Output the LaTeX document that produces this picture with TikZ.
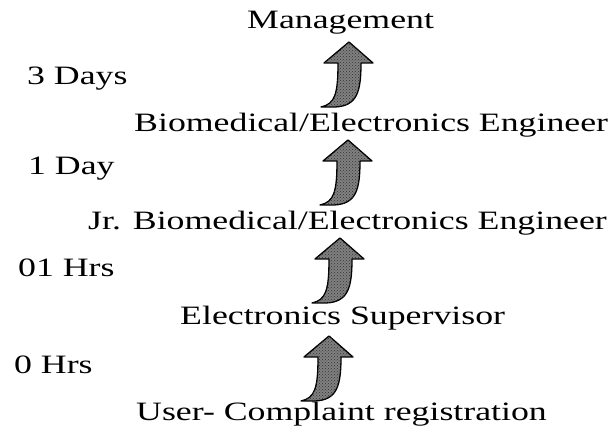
\documentclass[tikz,border=0pt]{standalone}
\usepackage{fontspec}
\setmainfont{Liberation Serif}[FakeStretch=1.35]
\usetikzlibrary{calc,positioning,patterns}

\begin{document}
\begin{tikzpicture}[x=1pt,y=-1pt,
    stage/.style={anchor=base west,inner sep=0pt,font=\fontsize{26.5}{30}\selectfont},
    delay/.style={anchor=base west,inner sep=0pt,font=\fontsize{26.5}{30}\selectfont},
    uparrow/.style={draw=black,line width=1.3pt,line join=round,fill=black!50,
      postaction={pattern=crosshatch dots,pattern color=black!80}}]

  \useasboundingbox (0,0) rectangle (611,427);

  % levels, top to bottom
  \node [stage] (mgmt) at (247,29) {Management};
  \node [stage] (bme) at (134,132) {Biomedical/Electronics Engineer};
  \node [stage] (jrbme) at (88,230) {Jr. Biomedical/Electronics Engineer};
  \node [stage] (sup) at (180,325) {Electronics Supervisor};
  \node [stage] (user) at (136,421) {User- Complaint registration};

  % response times
  \node [delay] (t_3) at (27,85) {3 Days};
  \node [delay] (t_2) at (28,175) {1 Day};
  \node [delay] (t_1) at (18,277) {01 Hrs};
  \node [delay] (t_0) at (14,374) {0 Hrs};

  \foreach \tx/\ty/\n in {349/42/3,348/140/2,340/238/1,329/336/0}
  {
    \coordinate (tip_\n) at (\tx,\ty);
    \begin{scope}[shift={(tip_\n)}]
      \draw [uparrow] (0,0) -- (24,21) -- (12,21)
        .. controls (12,50) and (8,64) .. (-14,65) -- (-28,65)
        .. controls (-14,62) and (-11,52) .. (-11,21) -- (-25,21) -- cycle;
    \end{scope}
  }

\end{tikzpicture}
\end{document}
